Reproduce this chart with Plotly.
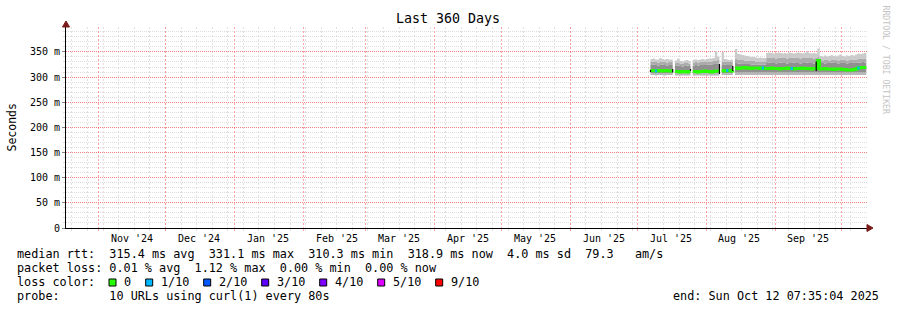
import plotly.graph_objects as go
import pandas as pd

# ---------------- data ----------------
graph_start = "2024-10-17 07:35:04"
graph_end = "2025-10-12 07:35:04"

# one consolidated point per day, 2025-07-07 .. 2025-10-12 (98 days)
first_day = "2025-07-07"
n_days = 98

# days on which no data was collected (gap in the smoke)
gap_days = ["2025-07-17", "2025-07-25", "2025-08-07", "2025-08-13"]

# median round trip time, ms
median_ms = [
    313, 313, 312, 313, 313, 312, 313, 313, 312, 312, 312,
    311, 311, 310, 311, 311, 310, 311, 311,
    311, 311, 310, 311, 311, 312, 311, 311, 310, 311, 312, 312, 312,
    313, 312, 313, 313, 312, 313,
    318, 317, 318, 318, 319, 318, 318, 317, 318, 318, 318, 317, 318, 317,
    317, 317, 318, 317, 317, 317, 316, 317, 317, 318, 317, 317, 316, 317, 317, 317, 318, 317, 317, 317, 316, 317, 317,
    333, 316, 316, 317, 316, 316, 316, 315, 316, 316, 316, 315, 315, 314, 314, 314, 315, 316, 318, 319, 319, 319, 319,
]
# smoke: fastest ping
smoke_min = [
    304, 304, 303, 304, 304, 304, 303, 304, 304, 304, 304,
    303, 303, 303, 303, 303, 303, 303, 303,
    303, 303, 303, 303, 303, 303, 303, 303, 303, 303, 303, 303, 303,
    304, 304, 304, 304, 304, 304,
    304, 304, 304, 304, 304, 304, 304, 304, 304, 304, 304, 304, 304, 304,
    304, 304, 304, 304, 304, 304, 304, 304, 304, 304, 304, 304, 304, 304, 304, 304, 304, 304, 304, 304, 304, 304, 304,
    304, 304, 304, 304, 304, 304, 304, 304, 304, 304, 304, 304, 304, 304, 304, 304, 304, 304, 304, 304, 304, 304, 304,
]
# smoke: lower edge of the dense core
smoke_lo = [
    308, 308, 307, 308, 308, 308, 307, 308, 308, 308, 308,
    307, 307, 307, 307, 307, 307, 307, 307,
    307, 307, 307, 307, 307, 307, 307, 307, 307, 307, 307, 307, 307,
    308, 308, 308, 308, 308, 308,
    309, 309, 309, 309, 309, 309, 309, 309, 309, 309, 309, 309, 309, 309,
    309, 309, 309, 309, 309, 309, 309, 309, 309, 309, 309, 309, 309, 309, 309, 309, 309, 309, 309, 309, 309, 309, 309,
    309, 309, 309, 309, 309, 309, 309, 309, 309, 309, 309, 309, 309, 309, 309, 309, 309, 309, 309, 309, 309, 309, 309,
]
# smoke: upper edge of the dense core
smoke_hi = [
    324, 325, 324, 323, 324, 325, 324, 323, 324, 324, 324,
    322, 323, 322, 321, 322, 323, 322, 322,
    323, 324, 323, 324, 324, 324, 325, 325, 325, 326, 326, 327, 327,
    324, 325, 324, 324, 324, 325,
    328, 327, 327, 326, 326, 326, 326, 325, 325, 325, 325, 325, 325, 325,
    328, 329, 328, 328, 327, 328, 329, 328, 328, 327, 328, 328, 329, 328, 328, 327, 328, 328, 329, 328, 328, 327, 328,
    334, 328, 328, 327, 328, 328, 329, 328, 328, 327, 328, 328, 328, 327, 328, 328, 329, 328, 329, 329, 330, 329, 329,
]
# smoke: upper edge of the middle shade
smoke_mid = [
    330, 331, 330, 329, 330, 331, 330, 329, 330, 330, 330,
    328, 328, 327, 327, 328, 328, 327, 328,
    329, 330, 329, 330, 331, 330, 331, 331, 331, 332, 332, 334, 334,
    330, 331, 330, 330, 330, 331,
    336, 335, 334, 334, 333, 333, 332, 332, 332, 331, 331, 331, 331, 331,
    338, 339, 338, 338, 337, 338, 339, 338, 338, 337, 338, 338, 339, 338, 338, 337, 338, 338, 339, 338, 338, 337, 338,
    340, 334, 333, 334, 334, 333, 334, 335, 334, 333, 334, 335, 334, 333, 334, 334, 335, 334, 336, 336, 337, 336, 336,
]
# smoke: slowest ping
smoke_max = [
    336, 337, 335, 335, 338, 336, 335, 336, 335, 335, 335,
    333, 337, 332, 331, 333, 334, 332, 332,
    334, 335, 334, 335, 336, 335, 336, 337, 337, 338, 352, 341, 341,
    350, 336, 335, 334, 335, 335,
    356, 346, 345, 344, 343, 342, 341, 340, 340, 339, 338, 339, 338, 338,
    348, 349, 348, 347, 348, 349, 348, 347, 348, 347, 349, 348, 347, 348, 349, 348, 347, 348, 352, 348, 347, 348, 347,
    357, 342, 341, 343, 341, 342, 344, 342, 341, 343, 345, 342, 341, 343, 342, 344, 343, 345, 347, 346, 347, 348, 347,
]

# days with packet loss (lost pings out of 10)
loss_days = ["2025-07-09", "2025-08-10", "2025-08-26", "2025-09-08", "2025-10-08"]
loss_pings = [1, 1, 1, 1, 1]

# short black median transitions
mark_times = ["2025-07-07", "2025-07-17", "2025-07-25", "2025-08-07", "2025-08-13", "2025-09-19 12:00"]
mark_lo = [310, 309, 312, 306, 312, 312]
mark_hi = [314, 316, 316, 326, 322, 331]

# legend
loss_labels = ["0", "1/10", "2/10", "3/10", "4/10", "5/10", "9/10"]
loss_colors = ["#26ff00", "#00b8ff", "#0059ff", "#5e00ff", "#7e00ff", "#dd00ff", "#ff0000"]
loss_levels = [0, 1, 2, 3, 4, 5, 9]

month_starts = ["2024-11-01", "2024-12-01", "2025-01-01", "2025-02-01", "2025-03-01", "2025-04-01",
                "2025-05-01", "2025-06-01", "2025-07-01", "2025-08-01", "2025-09-01", "2025-10-01"]
month_mids = ["2024-11-16", "2024-12-16", "2025-01-16", "2025-02-16", "2025-03-16", "2025-04-16",
              "2025-05-16", "2025-06-16", "2025-07-16", "2025-08-16", "2025-09-16"]
month_labels = ["Nov '24", "Dec '24", "Jan '25", "Feb '25", "Mar '25", "Apr '25",
                "May '25", "Jun '25", "Jul '25", "Aug '25", "Sep '25"]
week_tick0 = "2024-10-20"

y_ticks = [0, 50, 100, 150, 200, 250, 300, 350]
y_labels = ["0", "50 m", "100 m", "150 m", "200 m", "250 m", "300 m", "350 m"]

title_text = "Last 360 Days"
legend_lines = [
    "median rtt:  315.4 ms avg  331.1 ms max  310.3 ms min  318.9 ms now  4.0 ms sd  79.3   am/s",
    "packet loss: 0.01 % avg  1.12 % max  0.00 % min  0.00 % now",
    "loss color:",
    "probe:       10 URLs using curl(1) every 80s",
]
end_text = "end: Sun Oct 12 07:35:04 2025"

# ---------------- layout geometry ----------------
W, H = 897, 310
L, R, T, B = 66, 30, 27, 82
PW = W - L - R
PH = H - T - B
MONO = "DejaVu Sans Mono"


def pxx(x):
    return (x - L) / PW


def pxy(y):
    return (H - B - y) / PH


days = pd.date_range(first_day, periods=n_days, freq="D")
gap_idx = [days.get_loc(pd.Timestamp(g)) for g in gap_days]

segments = []
s = 0
for g in gap_idx:
    segments.append((s, g + 1))
    s = g + 1
segments.append((s, n_days))

fig = go.Figure()

fig.add_trace(go.Scatter(x=[graph_start], y=[None], xaxis="x2", mode="markers",
                         hoverinfo="skip", showlegend=False))

band_colors = ["#b8b8b8", "#909090", "#ababab", "#cbcbcb"]
bands = [smoke_min, smoke_lo, smoke_hi, smoke_mid, smoke_max]
for a, b in segments:
    xs = days[a:b]
    for k, arr in enumerate(bands):
        fig.add_trace(go.Scatter(
            x=xs, y=arr[a:b], mode="lines", line=dict(width=0, shape="hv"),
            fill=None if k == 0 else "tonexty",
            fillcolor=None if k == 0 else band_colors[k - 1],
            hoverinfo="skip", showlegend=False))
    fig.add_trace(go.Scatter(
        x=xs, y=median_ms[a:b], mode="lines",
        line=dict(width=3, color=loss_colors[0], shape="hv"),
        hoverinfo="skip", showlegend=False))

for d, p in zip(loss_days, loss_pings):
    i = days.get_loc(pd.Timestamp(d))
    col = loss_colors[max(j for j, lv in enumerate(loss_levels) if lv <= p)]
    fig.add_trace(go.Scatter(
        x=[days[i], days[i] + pd.Timedelta(days=1)], y=[median_ms[i], median_ms[i]],
        mode="lines", line=dict(width=3, color=col),
        hoverinfo="skip", showlegend=False))

mx, my = [], []
for t, lo, hi in zip(mark_times, mark_lo, mark_hi):
    mx += [t, t, None]
    my += [lo, hi, None]
fig.add_trace(go.Scatter(x=mx, y=my, mode="lines", line=dict(width=1.2, color="#000000"),
                         hoverinfo="skip", showlegend=False))

red_grid = "rgba(255,70,70,0.6)"
red_vgrid = "rgba(255,80,80,0.5)"
gray_grid = "rgba(190,190,190,0.5)"
gray_vgrid = "rgba(200,200,200,0.55)"

fig.update_layout(
    width=W, height=H,
    margin=dict(l=L, r=R, t=T, b=B, pad=0),
    paper_bgcolor="white", plot_bgcolor="white",
    showlegend=False,
    font=dict(family=MONO, size=10, color="#000000"),
    xaxis=dict(
        type="date", range=[graph_start, graph_end], automargin=False,
        tick0=week_tick0, dtick=7 * 86400000, showticklabels=False,
        showgrid=True, gridcolor=gray_vgrid, griddash="2px,2px", gridwidth=1,
        ticks="outside", ticklen=2, tickcolor=gray_vgrid,
        showline=True, linecolor="#000000", linewidth=1,
        zeroline=False,
    ),
    xaxis2=dict(
        type="date", range=[graph_start, graph_end], automargin=False,
        overlaying="x", anchor="y", side="bottom",
        tickmode="array", tickvals=month_starts, showticklabels=False,
        showgrid=True, gridcolor=red_vgrid, griddash="2px,2px", gridwidth=1,
        ticks="outside", ticklen=2, tickcolor=red_vgrid,
        showline=False, zeroline=False,
    ),
    yaxis=dict(
        range=[0, 399.5], automargin=False,
        tickmode="array", tickvals=y_ticks, ticktext=y_labels,
        showgrid=True, gridcolor=red_grid, griddash="1px,1px", gridwidth=1,
        ticks="outside", ticklen=3, tickcolor="#888888",
        showline=True, linecolor="#000000", linewidth=1,
        zeroline=False,
        tickfont=dict(family=MONO, size=10, color="#000000"),
        minor=dict(dtick=10, showgrid=True, gridcolor=gray_grid,
                   griddash="1px,1px", gridwidth=1,
                   ticks="outside", ticklen=2, tickcolor=gray_grid),
    ),
)

ann = []
for mdate, lab in zip(month_mids, month_labels):
    ann.append(dict(x=mdate, xref="x", y=0, yref="paper", yshift=-10, text=lab.replace(" ", "\u00a0"),
                    showarrow=False, xanchor="center", yanchor="middle",
                    font=dict(family=MONO, size=10, color="#000000")))
ann.append(dict(x=pxx(448), y=pxy(19), xref="paper", yref="paper", text=title_text.replace(" ", "\u00a0"),
                showarrow=False, xanchor="center", yanchor="middle",
                font=dict(family=MONO, size=13.3, color="#000000")))
ann.append(dict(x=pxx(11), y=pxy(127.5), xref="paper", yref="paper", text="Seconds",
                showarrow=False, xanchor="center", yanchor="middle", textangle=-90,
                font=dict(family=MONO, size=11.5, color="#000000")))
ann.append(dict(x=pxx(886), y=pxy(59.5), xref="paper", yref="paper",
                text="RRDTOOL / TOBI OETIKER".replace(" ", "\u00a0"),
                showarrow=False, xanchor="center", yanchor="middle", textangle=90,
                font=dict(family=MONO, size=8.2, color="#c4c4c4")))
for i, line in enumerate(legend_lines):
    ann.append(dict(x=pxx(15), y=pxy(254 + 14 * i), xref="paper", yref="paper",
                    text=line.replace(" ", "\u00a0"), showarrow=False,
                    xanchor="left", yanchor="middle",
                    font=dict(family=MONO, size=11.8, color="#000000")))
ann.append(dict(x=pxx(881), y=pxy(296), xref="paper", yref="paper",
                text=end_text.replace(" ", "\u00a0"), showarrow=False,
                xanchor="right", yanchor="middle",
                font=dict(family=MONO, size=11.8, color="#000000")))

shapes = []
xpos = 109.0
char_w = 7.1
for lab, col in zip(loss_labels, loss_colors):
    shapes.append(dict(type="rect", xref="paper", yref="paper",
                       x0=pxx(xpos), x1=pxx(xpos + 7), y0=pxy(286), y1=pxy(279),
                       fillcolor=col, line=dict(color="#000000", width=1)))
    ann.append(dict(x=pxx(xpos + 13), y=pxy(282), xref="paper", yref="paper",
                    text=lab, showarrow=False, xanchor="left", yanchor="middle",
                    font=dict(family=MONO, size=11.8, color="#000000")))
    xpos += 14 + len(lab) * char_w + 15.6

arrow_col = "#7a1a1a"
shapes.append(dict(type="path", xref="paper", yref="paper", xsizemode="pixel", ysizemode="pixel",
                   xanchor=0, yanchor=1, path="M -3.5 0 L 3.5 0 L 0 6 Z",
                   fillcolor=arrow_col, line=dict(color=arrow_col, width=1)))
shapes.append(dict(type="path", xref="paper", yref="paper", xsizemode="pixel", ysizemode="pixel",
                   xanchor=1, yanchor=0, path="M 0 -3.5 L 0 3.5 L 6 0 Z",
                   fillcolor=arrow_col, line=dict(color=arrow_col, width=1)))

fig.update_layout(annotations=ann, shapes=shapes)
fig.write_html("out.html")
